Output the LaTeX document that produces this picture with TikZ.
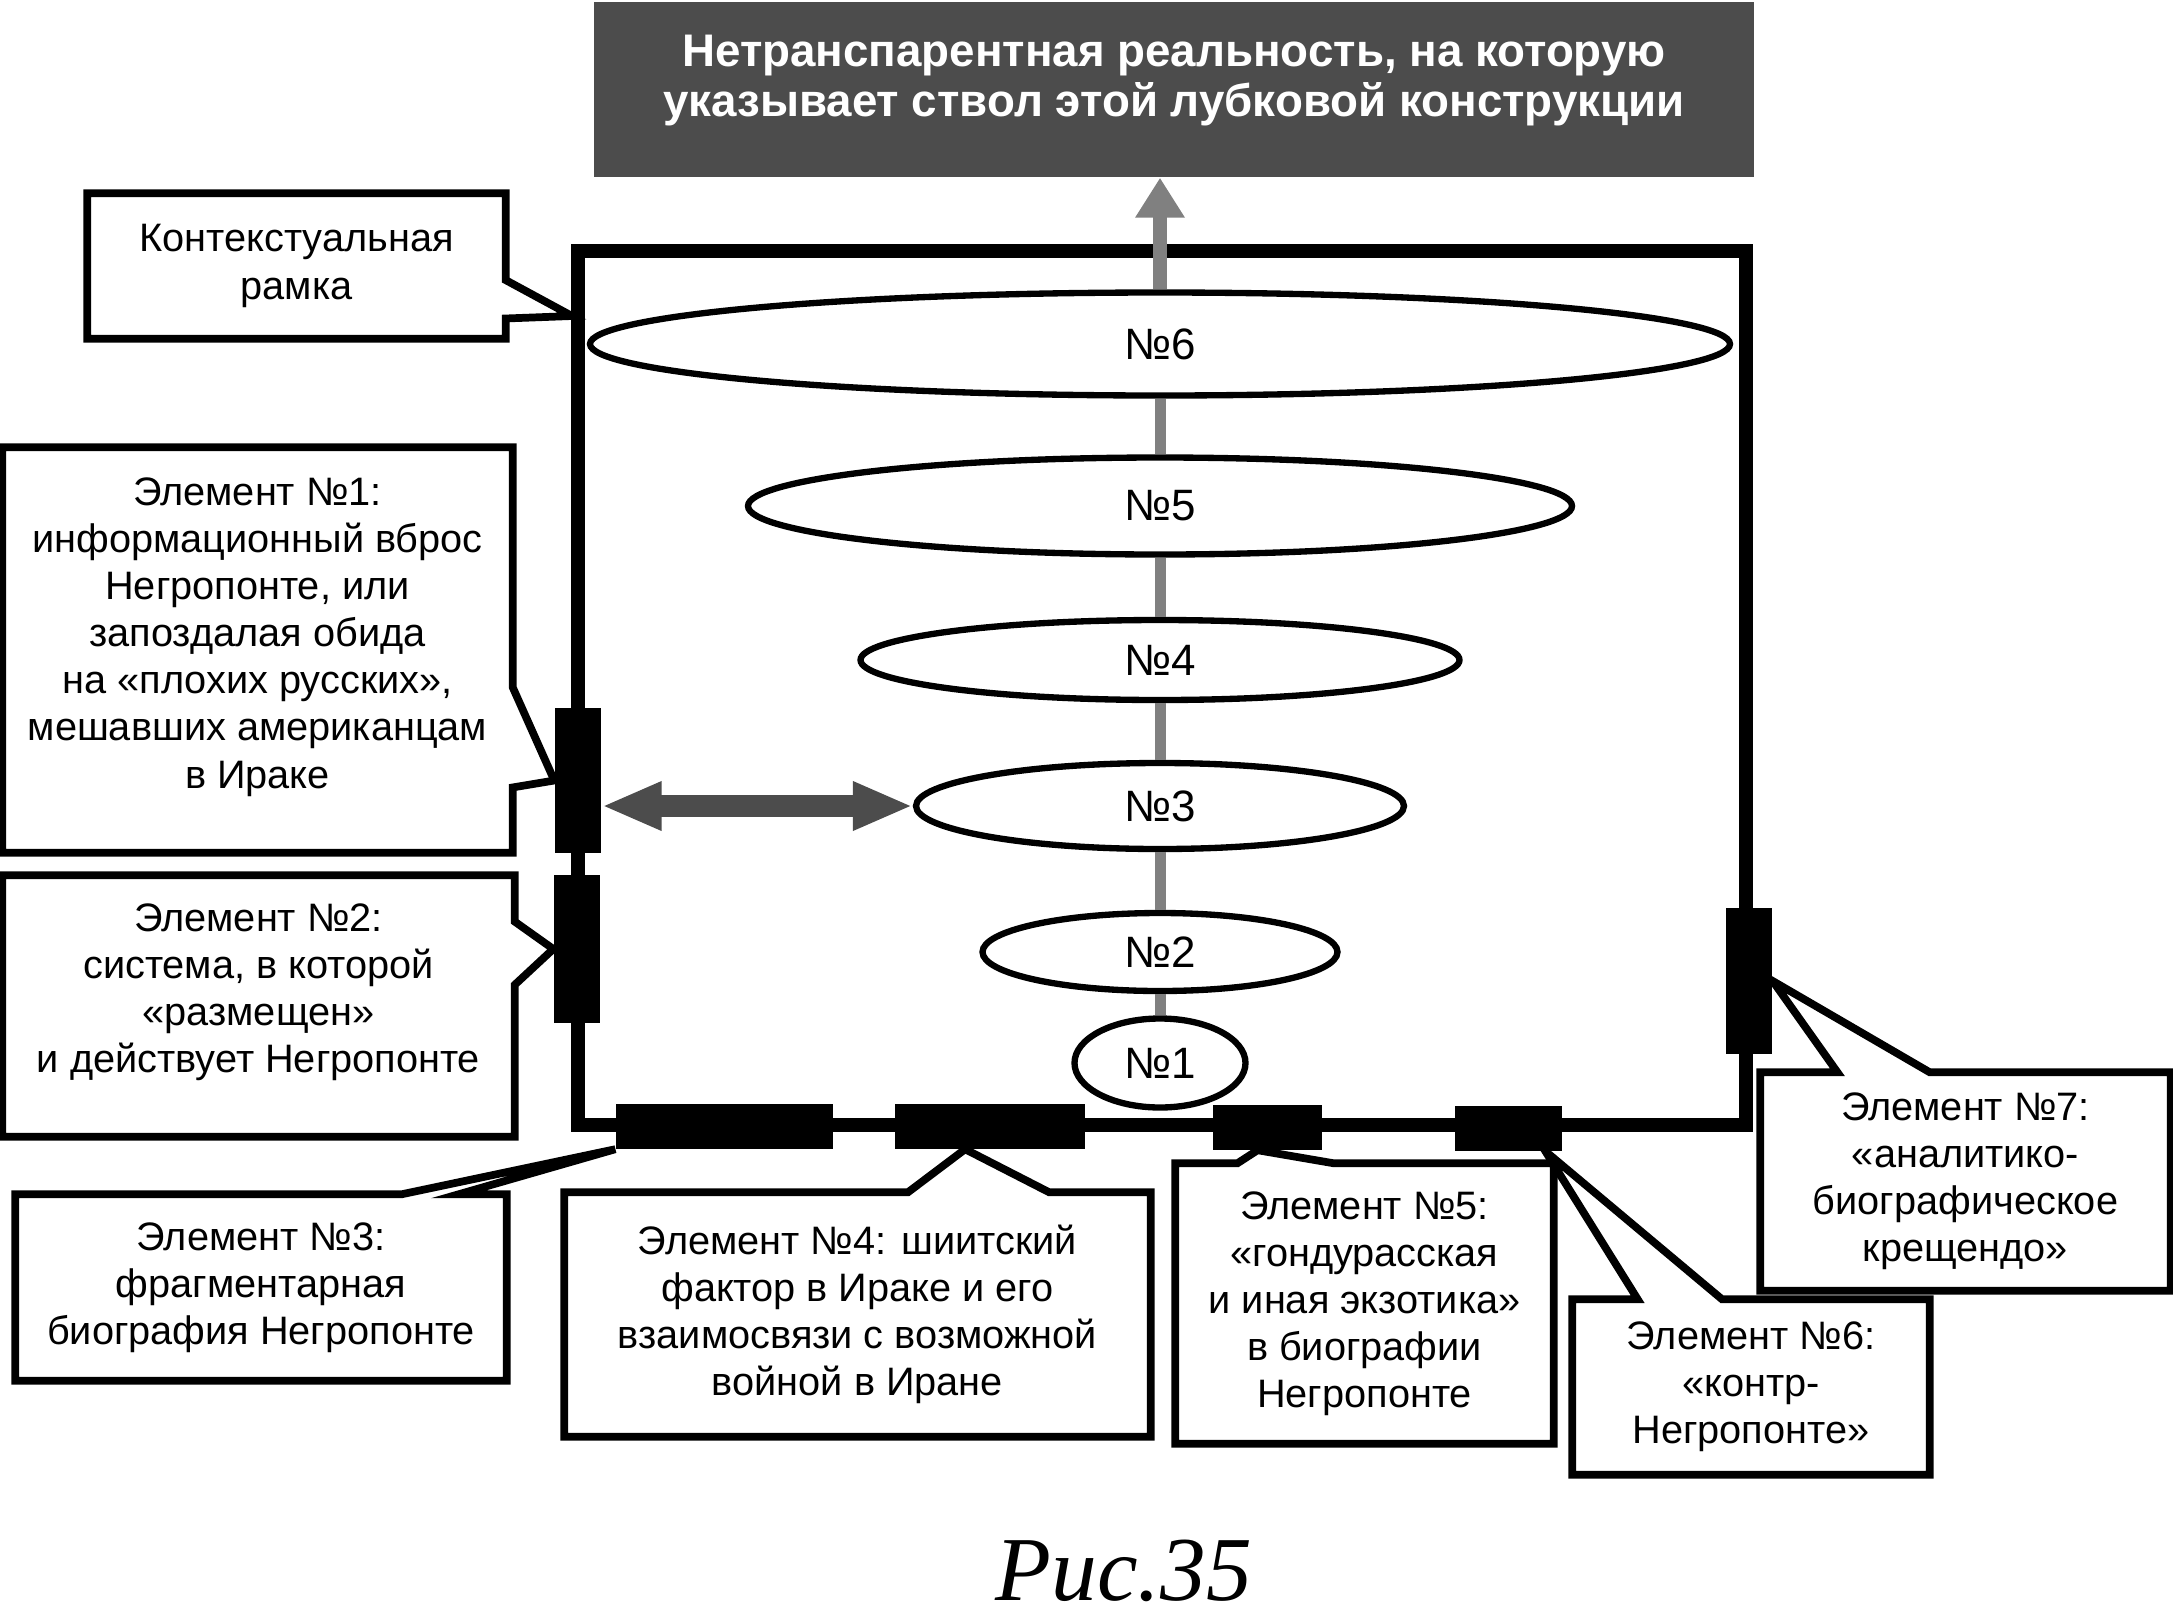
\documentclass[tikz,border=0pt]{standalone}
\usepackage{fontspec}
\setmainfont{Liberation Sans}
\newfontfamily\capfont{Liberation Serif}
\usetikzlibrary{arrows.meta}
\usetikzlibrary{calc}
\usetikzlibrary{shapes.geometric}
\tikzset{note/.style = {align = center, inner sep = 0, font = \fontsize{11.3}{13.4}\selectfont}}
\tikzset{outline/.style = {line width = 2.2pt, line join = miter}}
\tikzset{oval/.style = {draw, ellipse, fill = white, line width = 1.8pt, inner sep = 0, font = \fontsize{12.5}{14}\selectfont}}
\tikzset{tab/.style = {fill, inner sep = 0}}
\tikzset{stem/.style = {draw = black!50, line width = 0.11cm}}
\tikzset{twin/.style = {draw = black!70, fill = black!70, line width = 0.22cm, {Triangle[width = 0.45cm, length = 0.6cm]}-{Triangle[width = 0.45cm, length = 0.6cm]}}}

\begin{document}
\begin{tikzpicture}
      \useasboundingbox (0, 0) rectangle (21.73, -16.16);

      % the reality the stem points to
      \node [fill = black!70, inner sep = 0, minimum width = 11.60cm, minimum height = 1.75cm] (real) at (11.74, -0.895) {};
      \node [text = white, align = center, inner sep = 0, font = \bfseries\fontsize{13}{14.5}\selectfont] (realtext) at ($(real) + (0, 0.09)$)
            {Нетранспарентная реальность, на которую\\указывает ствол этой лубковой конструкции};

      % context frame
      \node [draw, line width = 4pt, inner sep = 0, minimum width = 11.68cm, minimum height = 8.74cm] (frame) at (11.62, -6.88) {};

      % levels
      \node [oval, minimum width = 11.40cm, minimum height = 1.03cm] (e6) at (11.60, -3.44) {№6};
      \node [oval, minimum width = 8.24cm, minimum height = 0.97cm] (e5) at (11.60, -5.06) {№5};
      \node [oval, minimum width = 5.99cm, minimum height = 0.80cm] (e4) at (11.60, -6.60) {№4};
      \node [oval, minimum width = 4.88cm, minimum height = 0.86cm] (e3) at (11.60, -8.06) {№3};
      \node [oval, minimum width = 3.55cm, minimum height = 0.78cm] (e2) at (11.60, -9.52) {№2};
      \node [oval, minimum width = 1.71cm, minimum height = 0.89cm] (e1) at (11.60, -10.63) {№1};

      % stem
      \draw [stem] (e1) -- (e2);
      \draw [stem] (e2) -- (e3);
      \draw [stem] (e3) -- (e4);
      \draw [stem] (e4) -- (e5);
      \draw [stem] (e5) -- (e6);
      \draw [stem, line width = 0.14cm, -{Triangle[width = 0.47cm, length = 0.4cm]}] (e6) -- (e6 |- real.south);

      % elements on the frame
      \node [tab, minimum width = 0.46cm, minimum height = 1.45cm] (m1) at (5.78, -7.805) {};
      \node [tab, minimum width = 0.46cm, minimum height = 1.48cm] (m2) at (5.77, -9.49) {};
      \node [tab, minimum width = 2.17cm, minimum height = 0.45cm] (m3) at (7.245, -11.26) {};
      \node [tab, minimum width = 1.90cm, minimum height = 0.45cm] (m4) at (9.90, -11.26) {};
      \node [tab, minimum width = 1.09cm, minimum height = 0.45cm] (m5) at (12.675, -11.27) {};
      \node [tab, minimum width = 1.07cm, minimum height = 0.45cm] (m6) at (15.085, -11.28) {};
      \node [tab, minimum width = 0.46cm, minimum height = 1.46cm] (m7) at (17.49, -9.81) {};

      \draw [twin] (m1.east |- e3) -- (e3.west);

      % callouts
      \coordinate (c0tip) at (5.72, -3.16);
      \node [note, minimum width = 4.17cm, minimum height = 1.44cm] (c0) at (2.965, -2.66) {Контекстуальная\\рамка};
      \draw [outline] (c0.north west) -- (c0.north east) -- ($(c0.north east)!.597!(c0.south east)$) -- (c0tip)
            -- ($(c0.north east)!.861!(c0.south east)$) -- (c0.south east) -- (c0.south west) -- cycle;

      \node [minimum width = 5.09cm, minimum height = 4.04cm, inner sep = 0] (c1) at (2.575, -6.50) {};
      \node [note] (c1text) at ($(c1) + (0, 0.13)$)
            {Элемент №1:\\информационный вброс\\Негропонте, или\\запоздалая обида\\на «плохих русских»,\\мешавших американцам\\в Ираке};
      \draw [outline] (c1.north west) -- (c1.north east) -- ($(c1.north east)!.592!(c1.south east)$) -- (m1.west)
            -- ($(c1.north east)!.839!(c1.south east)$) -- (c1.south east) -- (c1.south west) -- cycle;

      \node [minimum width = 5.11cm, minimum height = 2.60cm, inner sep = 0] (c2) at (2.585, -10.06) {};
      \node [note] (c2text) at ($(c2) + (0, 0.14)$)
            {Элемент №2:\\система, в которой\\«размещен»\\и действует Негропонте};
      \draw [outline] (c2.north west) -- (c2.north east) -- ($(c2.north east)!.177!(c2.south east)$) -- (m2.west)
            -- ($(c2.north east)!.419!(c2.south east)$) -- (c2.south east) -- (c2.south west) -- cycle;

      \node [note, minimum width = 4.90cm, minimum height = 1.85cm] (c3) at (2.61, -12.875)
            {Элемент №3:\\фрагментарная\\биография Негропонте};
      \draw [outline] (c3.south west) -- (c3.north west) -- ($(c3.north west)!.786!(c3.north east)$) -- (m3.south west)
            -- ($(c3.north west)!.902!(c3.north east)$) -- (c3.north east) -- (c3.south east) -- cycle;

      \node [note, minimum width = 5.85cm, minimum height = 2.43cm] (c4) at (8.575, -13.145)
            {Элемент №4: шиитский\\фактор в Ираке и его\\взаимосвязи с возможной\\войной в Иране};
      \draw [outline] (c4.south west) -- (c4.north west) -- ($(c4.north west)!.586!(c4.north east)$) -- ($(m4.south west)!.37!(m4.south east)$)
            -- ($(c4.north west)!.827!(c4.north east)$) -- (c4.north east) -- (c4.south east) -- cycle;

      \node [note, minimum width = 3.77cm, minimum height = 2.79cm] (c5) at (13.645, -13.035)
            {Элемент №5:\\«гондурасская\\и иная экзотика»\\в биографии\\Негропонте};
      \draw [outline] (c5.south west) -- (c5.north west) -- ($(c5.north west)!.164!(c5.north east)$) -- ($(m5.south west)!.41!(m5.south east)$)
            -- ($(c5.north west)!.419!(c5.north east)$) -- (c5.north east) -- (c5.south east) -- cycle;

      \node [note, minimum width = 3.56cm, minimum height = 1.74cm] (c6) at (17.51, -13.87)
            {Элемент №6:\\«контр-\\Негропонте»};
      \draw [outline] (c6.south west) -- (c6.north west) -- ($(c6.north west)!.183!(c6.north east)$) -- ($(m6.south west)!.84!(m6.south east)$)
            -- ($(c6.north west)!.419!(c6.north east)$) -- (c6.north east) -- (c6.south east) -- cycle;

      \node [note, minimum width = 4.09cm, minimum height = 2.17cm] (c7) at (19.655, -11.815)
            {Элемент №7:\\«аналитико-\\биографическое\\крещендо»};
      \draw [outline] (c7.south west) -- (c7.north west) -- ($(c7.north west)!.188!(c7.north east)$) -- (m7.east)
            -- ($(c7.north west)!.413!(c7.north east)$) -- (c7.north east) -- (c7.south east) -- cycle;

      \node [anchor = base, inner sep = 0, font = \capfont\itshape\fontsize{26}{30}\selectfont] (caption) at (11.24, -16.0) {Рис.35};
    \end{tikzpicture}
\end{document}
